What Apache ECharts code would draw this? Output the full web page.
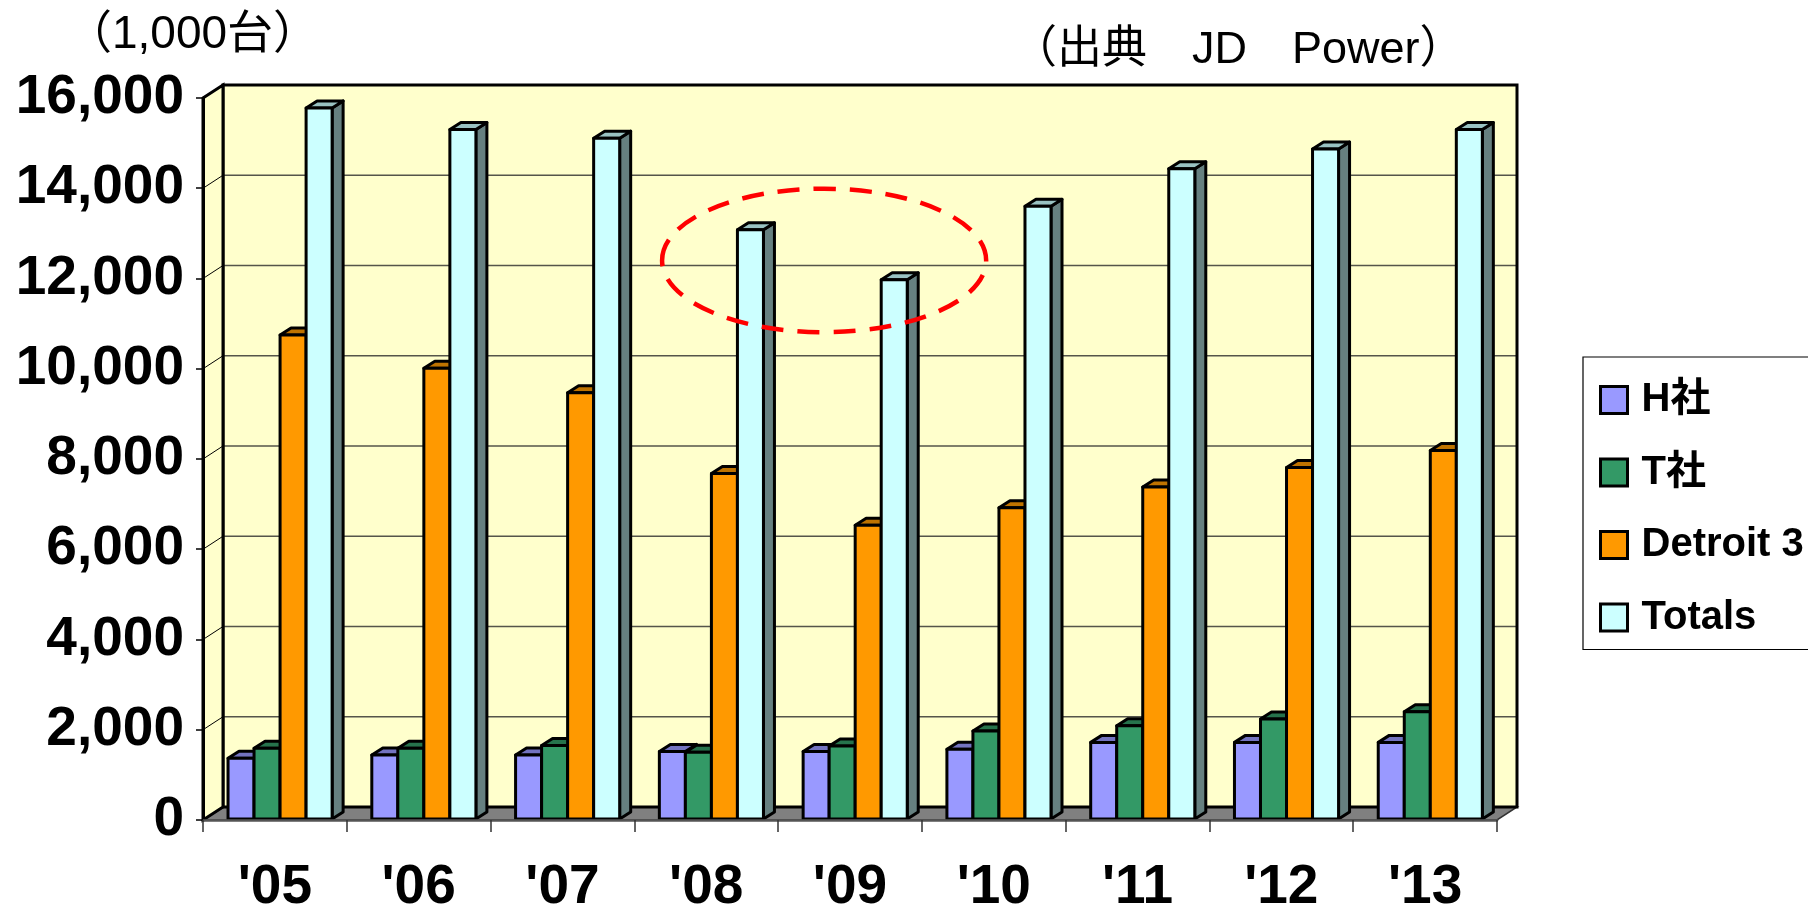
<!DOCTYPE html>
<html>
<head>
<meta charset="utf-8">
<script src="https://cdn.jsdelivr.net/npm/echarts@6/dist/echarts.min.js"></script>
<style>
html,body{margin:0;padding:0;background:#fff;}
#chart{width:1808px;height:915px;}
</style>
</head>
<body>
<div id="chart"></div>
<script>
// ---- data ----
const categories = ["'05", "'06", "'07", "'08", "'09", "'10", "'11", "'12", "'13"];
const seriesNames = ['H社', 'T社', 'Detroit 3', 'Totals'];
const hValues = [1370, 1440, 1440, 1520, 1520, 1570, 1720, 1720, 1720];
const tValues = [1590, 1590, 1650, 1500, 1640, 1970, 2090, 2240, 2400];
const d3Values = [10750, 10010, 9470, 7680, 6530, 6920, 7380, 7810, 8190];
const totalValues = [15780, 15300, 15110, 13080, 11970, 13600, 14430, 14870, 15300];
const yMin = 0, yMax = 16000, yStep = 2000;
// highlight ellipse: centre category position & value, radii (in category widths / value units)
const highlight = { catPos: 3.82, value: 12400, rCat: 1.127, rValue: 1590 };

// ---- styles ----
const FONT = "'Liberation Sans', Arial, 'Noto Sans CJK JP', sans-serif";
const faceColors = [
  { front: '#9999FF', top: '#7373C0', side: '#5C5C99' },
  { front: '#339966', top: '#26734C', side: '#1F5C3D' },
  { front: '#FF9900', top: '#BF7300', side: '#995C00' },
  { front: '#CCFFFF', top: '#99C2C2', side: '#668080' }
];
const WALL_DX = 20, WALL_DY = -13;   // depth of the 3D box
const BAR_DX = 11, BAR_DY = -7;      // depth of each column
const BAR_FRAC = 0.181;              // column width as fraction of category width

const allValues = [hValues, tValues, d3Values, totalValues];

const chart = echarts.init(document.getElementById('chart'), null, { renderer: 'canvas' });

function wallRender(params, api) {
  const cs = params.coordSys;
  const L = cs.x, R = cs.x + cs.width, T = cs.y, B = cs.y + cs.height;
  const children = [];
  children.push({ type: 'rect', shape: { x: L + WALL_DX, y: T + WALL_DY, width: R - L, height: B - T },
    style: { fill: '#FFFFCC', stroke: 'none' } });
  for (let v = yMin + yStep; v < yMax; v += yStep) {
    const y = api.coord([0, v])[1];
    children.push({ type: 'line', shape: { x1: L + WALL_DX, y1: y + WALL_DY, x2: R + WALL_DX, y2: y + WALL_DY },
      style: { stroke: '#55554A', lineWidth: 1.6 } });
  }
  children.push({ type: 'polygon', shape: { points: [[L, B], [L + WALL_DX, B + WALL_DY], [R + WALL_DX, B + WALL_DY], [R, B]] },
    style: { fill: '#808080', stroke: '#333', lineWidth: 1.5 } });
  children.push({ type: 'rect', shape: { x: L + WALL_DX, y: T + WALL_DY, width: R - L, height: B - T },
    style: { fill: 'none', stroke: '#000', lineWidth: 3 } });
  children.push({ type: 'polygon', shape: { points: [[L, T], [L + WALL_DX, T + WALL_DY], [L + WALL_DX, B + WALL_DY], [L, B]] },
    style: { fill: '#FFFFCC', stroke: '#000', lineWidth: 3, lineJoin: 'miter' } });
  for (let v = yMin + yStep; v < yMax; v += yStep) {
    const y = api.coord([0, v])[1];
    children.push({ type: 'line', shape: { x1: L, y1: y, x2: L + WALL_DX, y2: y + WALL_DY },
      style: { stroke: '#000', lineWidth: 1 } });
  }
  return { type: 'group', children: children };
}

function makeBarRender(sIdx) {
  return function (params, api) {
    const idx = api.value(0), val = api.value(1);
    const p0 = api.coord([idx, 0]);
    const p1 = api.coord([idx, val]);
    const catW = api.size([1, 0])[0];
    const w = catW * BAR_FRAC;
    const x0 = p0[0] - catW / 2 + w * (1 + sIdx) - 1;
    const yb = p0[1] - 1, yt = p1[1];
    const c = faceColors[sIdx];
    const st = { stroke: '#000', lineWidth: 3, lineJoin: 'round' };
    return {
      type: 'group',
      children: [
        { type: 'polygon', shape: { points: [[x0 + w, yt], [x0 + w + BAR_DX, yt + BAR_DY], [x0 + w + BAR_DX, yb + BAR_DY], [x0 + w, yb]] },
          style: Object.assign({ fill: c.side }, st) },
        { type: 'polygon', shape: { points: [[x0, yt], [x0 + BAR_DX, yt + BAR_DY], [x0 + w + BAR_DX, yt + BAR_DY], [x0 + w, yt]] },
          style: Object.assign({ fill: c.top }, st) },
        { type: 'rect', shape: { x: x0, y: yt, width: w, height: yb - yt },
          style: Object.assign({ fill: c.front }, st) }
      ]
    };
  };
}

function ellipseRender(params, api) {
  const base = Math.floor(highlight.catPos);
  const c = api.coord([base, highlight.value]);
  const catW = api.size([1, 0])[0];
  const cx = c[0] + (highlight.catPos - base) * catW;
  const rv = api.size([0, highlight.rValue])[1];
  return {
    type: 'ellipse',
    shape: { cx: cx, cy: c[1], rx: catW * highlight.rCat, ry: rv },
    style: { fill: 'none', stroke: '#FF0000', lineWidth: 4.5, lineDash: [22, 14] }
  };
}

const series = [
  { type: 'custom', name: '_walls', z: 1, silent: true, renderItem: wallRender, data: [[0, 0]] }
];
seriesNames.forEach(function (name, i) {
  series.push({
    type: 'custom', name: name, z: 2,
    renderItem: makeBarRender(i),
    itemStyle: { color: faceColors[i].front, borderColor: '#000', borderWidth: 3 },
    encode: { x: 0, y: 1 },
    data: allValues[i].map(function (v, k) { return [k, v]; })
  });
});
series.push({ type: 'custom', name: '_highlight', z: 5, silent: true, renderItem: ellipseRender, data: [[0, 0]] });

const option = {
  backgroundColor: '#ffffff',
  animation: false,
  title: [
    { text: '（1,000台）', left: 66, top: 12, padding: 0,
      textStyle: { fontFamily: FONT, fontSize: 46, fontWeight: 'normal', color: '#000' } },
    { text: '（出典　JD　Power）', left: 1012, top: 28, padding: 0,
      textStyle: { fontFamily: FONT, fontSize: 45, fontWeight: 'normal', color: '#000' } }
  ],
  legend: {
    data: seriesNames,
    orient: 'vertical',
    left: 1583, top: 357,
    padding: [23, 12, 12, 16],
    itemWidth: 27, itemHeight: 27, itemGap: 32.5,
    icon: 'rect',
    borderColor: '#000', borderWidth: 1.2,
    backgroundColor: '#fff',
    itemStyle: { borderColor: '#000', borderWidth: 3 },
    textStyle: { fontFamily: FONT, fontSize: 40, fontWeight: 'bold', color: '#000', lineHeight: 27, padding: [0, 0, 0, 9] }
  },
  grid: { left: 203, top: 98, width: 1294, height: 735, containLabel: false },
  xAxis: {
    type: 'category', data: categories, boundaryGap: true, z: 3,
    axisLine: { show: true, lineStyle: { color: '#555', width: 2.5 } },
    axisTick: { show: true, length: 12, lineStyle: { color: '#333', width: 1.5 } },
    axisLabel: { margin: 40, fontFamily: FONT, fontSize: 55, fontWeight: 'bold', color: '#000' },
    splitLine: { show: false }
  },
  yAxis: {
    type: 'value', min: yMin, max: yMax, interval: yStep, z: 3,
    axisLine: { show: true, lineStyle: { color: '#000', width: 3 } },
    axisTick: { show: true, length: 7, lineStyle: { color: '#000', width: 1.5 } },
    axisLabel: { margin: 19, fontFamily: FONT, fontSize: 55, fontWeight: 'bold', color: '#000',
      formatter: function (v) { return v.toLocaleString('en-US'); } },
    splitLine: { show: false }
  },
  series: series
};
chart.setOption(option);
</script>
</body>
</html>
